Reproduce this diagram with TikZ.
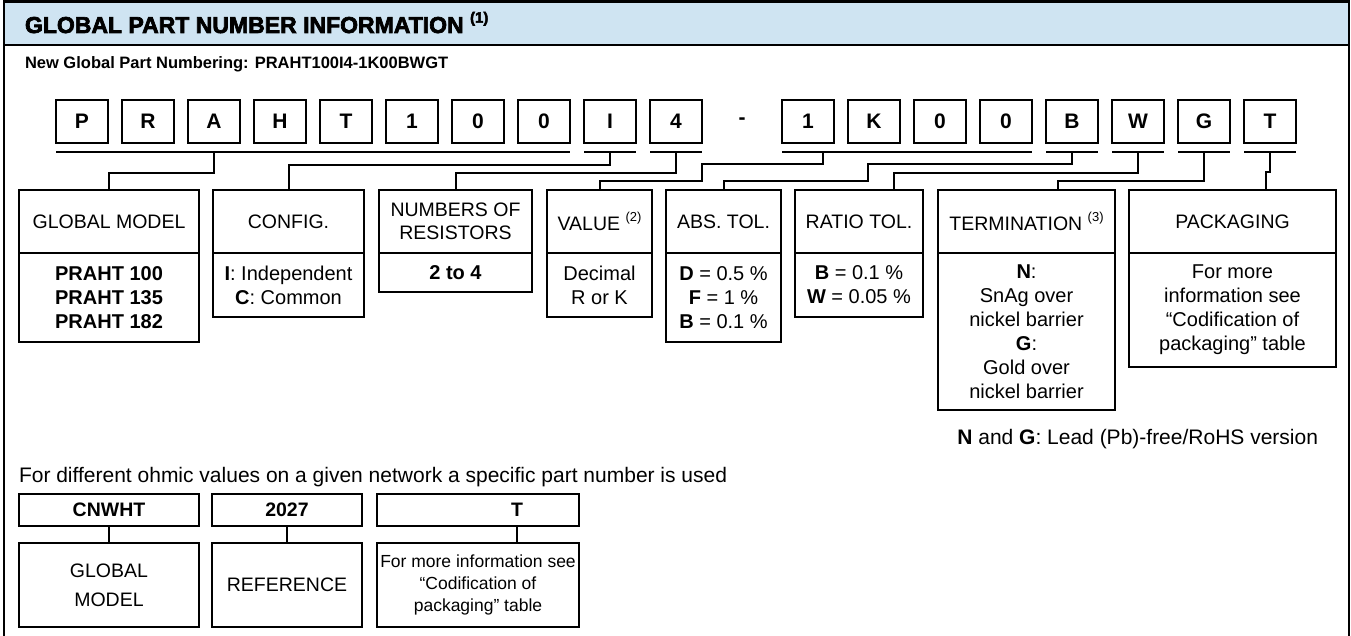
\documentclass[tikz,border=0pt]{standalone}
\usepackage{fontspec}
\setmainfont{Liberation Sans}
\newfontfamily\titlefont{Liberation Sans Bold}[FakeBold=3]
\definecolor{titlebg}{RGB}{207,228,242}
\newcommand{\fs}[2]{\fontsize{#1}{#2}\selectfont}
\newcommand{\sups}[1]{\raisebox{0.5em}{\fs{13}{13}#1}}
\begin{document}
\begin{tikzpicture}[x=1pt,y=-1pt,
  every node/.style={outer sep=0pt},
  frame/.style={line width=2.5pt},
  cbox/.style={draw,line width=2pt,minimum width=52pt,minimum height=43pt,inner sep=0pt,font=\fs{21}{24}\bfseries},
  dashch/.style={inner sep=0pt,font=\fs{21}{24}\bfseries},
  uline/.style={line width=2pt},
  conn/.style={line width=2pt},
  hbox/.style={draw,line width=2pt,anchor=north west,minimum height=63pt,inner sep=2pt,align=center,font=\fs{19.5}{23}},
  dbox/.style={draw,line width=2pt,anchor=north,inner sep=2pt,align=center,font=\fs{20}{24}},
  bhead/.style={draw,line width=2pt,anchor=north west,minimum height=32pt,inner sep=2pt,font=\fs{19.5}{23}\bfseries},
  bbody/.style={draw,line width=2pt,anchor=north west,minimum height=84pt,inner sep=2pt,align=center,font=\fs{19.5}{29}},
  plain/.style={inner sep=0pt,font=\fs{21}{24}}
]
\useasboundingbox (0,0) rectangle (1351,636);
% frame and title bar
\fill[titlebg] (4,1.5) rectangle (1349,45);
\draw[frame] (4,640) -- (4,1.5) -- (1349,1.5) -- (1349,640);
\draw[frame] (4,45) -- (1349,45);
\node[anchor=base west,inner sep=0pt] (title) at (25,33) {\titlefont\fs{23}{23}GLOBAL PART NUMBER INFORMATION \raisebox{0.45em}{\fs{15}{15}(1)}};
\node[plain,anchor=base west,font=\fs{16.5}{20}\bfseries] (sub) at (25,69) {New Global Part Numbering: PRAHT100I4-1K00BWGT};
% character boxes
\foreach \ch [count=\i from 0] in {P,R,A,H,T,1,0,0,I,4,-,1,K,0,0,B,W,G,T} {
  \ifnum\i=10
    \node[dashch] (c\i) at (82+66*\i,121.5) {-};
  \else
    \node[cbox] (c\i) at (82+66*\i,121.5) {\ch};
  \fi
}
% underlines
\coordinate (ul) at (0,152);
\draw[uline] (c0.south west |- ul) -- (c7.south east |- ul);
\draw[uline] (c8.south west |- ul) -- (c8.south east |- ul);
\draw[uline] (c9.south west |- ul) -- (c9.south east |- ul);
\draw[uline] (c11.south west |- ul) -- (c14.south east |- ul);
\foreach \k in {15,16,17,18} \draw[uline] (c\k.south west |- ul) -- (c\k.south east |- ul);
% column boxes
\node[hbox,minimum width=180pt] (h1) at (19,190) {GLOBAL MODEL};
\node[dbox,minimum width=180pt,minimum height=89pt] (d1) at (h1.south) {\textbf{PRAHT 100}\\\textbf{PRAHT 135}\\\textbf{PRAHT 182}};
\node[hbox,minimum width=151pt] (h2) at (213,190) {CONFIG.};
\node[dbox,minimum width=151pt,minimum height=64pt] (d2) at (h2.south) {\textbf{I}: Independent\\\textbf{C}: Common};
\node[hbox,minimum width=153pt] (h3) at (379,190) {NUMBERS OF\\RESISTORS};
\node[dbox,minimum width=153pt,minimum height=39pt] (d3) at (h3.south) {\textbf{2 to 4}};
\node[hbox,minimum width=105pt] (h4) at (547,190) {VALUE \sups{(2)}};
\node[dbox,minimum width=105pt,minimum height=64pt] (d4) at (h4.south) {Decimal\\R or K};
\node[hbox,minimum width=115pt] (h5) at (666,190) {ABS. TOL.};
\node[dbox,minimum width=115pt,minimum height=89pt] (d5) at (h5.south) {\textbf{D} = 0.5 \%\\\textbf{F} = 1 \%\\\textbf{B} = 0.1 \%};
\node[hbox,minimum width=128pt] (h6) at (795,190) {RATIO TOL.};
\node[dbox,minimum width=128pt,minimum height=64pt] (d6) at (h6.south) {\textbf{B} = 0.1 \%\\\textbf{W} = 0.05 \%};
\node[hbox,minimum width=177pt] (h7) at (938,190) {TERMINATION \sups{(3)}};
\node[dbox,minimum width=177pt,minimum height=157pt] (d7) at (h7.south) {\textbf{N}:\\SnAg over\\nickel barrier\\\textbf{G}:\\Gold over\\nickel barrier};
\node[hbox,minimum width=207pt] (h8) at (1129,190) {PACKAGING};
\node[dbox,minimum width=207pt,minimum height=114pt] (d8) at (h8.south) {For more\\information see\\“Codification of\\packaging” table};
% connectors
\draw[conn] (c2.south |- ul) -- ++(0,21) -| (h1.north);
\draw[conn] (c8.south |- ul) -- ++(0,13) -| (h2.north);
\draw[conn] (c9.south |- ul) -- ++(0,21) -| (h3.north);
\draw[conn] ([xshift=15pt]c11.south |- ul) |- (702,164) -- (702,181) -| (h4.north);
\draw[conn] (c15.south |- ul) |- (868,164) -- (868,181) -| (h5.north);
\draw[conn] (c16.south |- ul) -- ++(0,21) -| ([xshift=35pt]h6.north);
\draw[conn] (c17.south |- ul) -- ++(0,29) -| ([xshift=31.5pt]h7.north);
\draw[conn] (c18.south |- ul) -- ++(0,20) -- ++(-4,0) -- ([xshift=33.5pt]h8.north);
% notes
\node[plain,anchor=base east] (note) at (1318,444) {\textbf{N} and \textbf{G}: Lead (Pb)-free/RoHS version};
\node[plain,anchor=base west] (diff) at (19,482) {For different ohmic values on a given network a specific part number is used};
% bottom boxes
\node[bhead,minimum width=180pt] (b1) at (19,494) {CNWHT};
\node[bhead,minimum width=150pt] (b2) at (212,494) {2027};
\node[bhead,minimum width=202pt] (b3) at (377,494) {\hspace*{78pt}T};
\node[bbody,minimum width=180pt] (e1) at (19,543) {GLOBAL\\MODEL};
\node[bbody,minimum width=150pt] (e2) at (212,543) {REFERENCE};
\node[bbody,minimum width=202pt,font=\fs{17.5}{22}] (e3) at (377,543) {For more information see\\“Codification of\\packaging” table};
\draw[conn] (b1.south) -- (e1.north);
\draw[conn] (b2.south) -- (e2.north);
\draw[conn] ([xshift=39pt]b3.south) -- ([xshift=39pt]e3.north);
\end{tikzpicture}
\end{document}
